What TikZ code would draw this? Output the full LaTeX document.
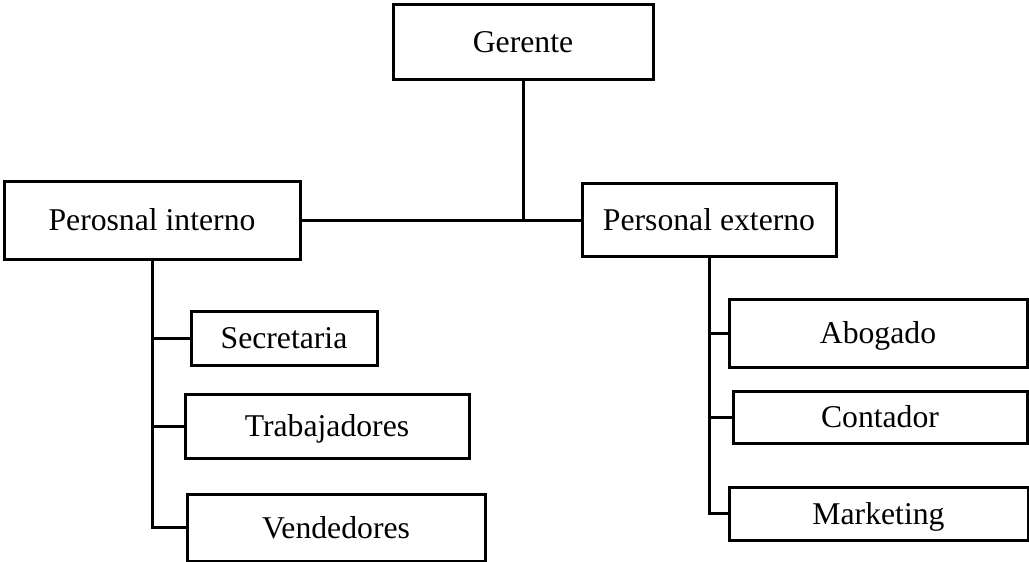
\documentclass[tikz,border=0pt]{standalone}
\usepackage{fontspec}
\setmainfont{Liberation Serif}
\begin{document}
\begin{tikzpicture}[x=1pt,y=-1pt,
  box/.style={draw=black,line width=3pt,inner sep=0pt,anchor=center,
    font=\fontsize{31.7}{38}\selectfont,text height=21pt,text depth=0pt},
  link/.style={draw=black,line width=3pt,line join=miter}]
\useasboundingbox (0,0) rectangle (1029,562);
\node[box,minimum width=296pt,minimum height=78pt] (pi) at (152,220) {Perosnal interno};
\node[box,minimum width=254pt,minimum height=73pt] (pe) at (709,220) {Personal externo};
\node[box,minimum width=260pt,minimum height=75pt] (ger) at (523,41.5) {Gerente};
\node[box,minimum width=186pt,minimum height=54pt] (sec) at (284,338) {Secretaria};
\node[box,minimum width=284pt,minimum height=64pt] (tra) at (327,426) {Trabajadores};
\node[box,minimum width=298pt,minimum height=67pt] (ven) at (336,527.5) {Vendedores};
\node[box,minimum width=298pt,minimum height=68pt] (abo) at (878,333) {Abogado};
\node[box,minimum width=294pt,minimum height=52pt] (con) at (880,417) {Contador};
\node[box,minimum width=299pt,minimum height=53pt] (mkt) at (878.5,513.5) {Marketing};
\draw[link] (pi.east) -- (pe.west);
\draw[link] (ger.south) -- (ger.south |- pi.east);
\draw[link] (pi.south) -- (pi.south |- ven.west) -- (ven.west);
\draw[link] (pi.south |- sec.west) -- (sec.west);
\draw[link] (pi.south |- tra.west) -- (tra.west);
\draw[link] (pe.south) -- (pe.south |- mkt.west) -- (mkt.west);
\draw[link] (pe.south |- abo.west) -- (abo.west);
\draw[link] (pe.south |- con.west) -- (con.west);
\end{tikzpicture}
\end{document}
